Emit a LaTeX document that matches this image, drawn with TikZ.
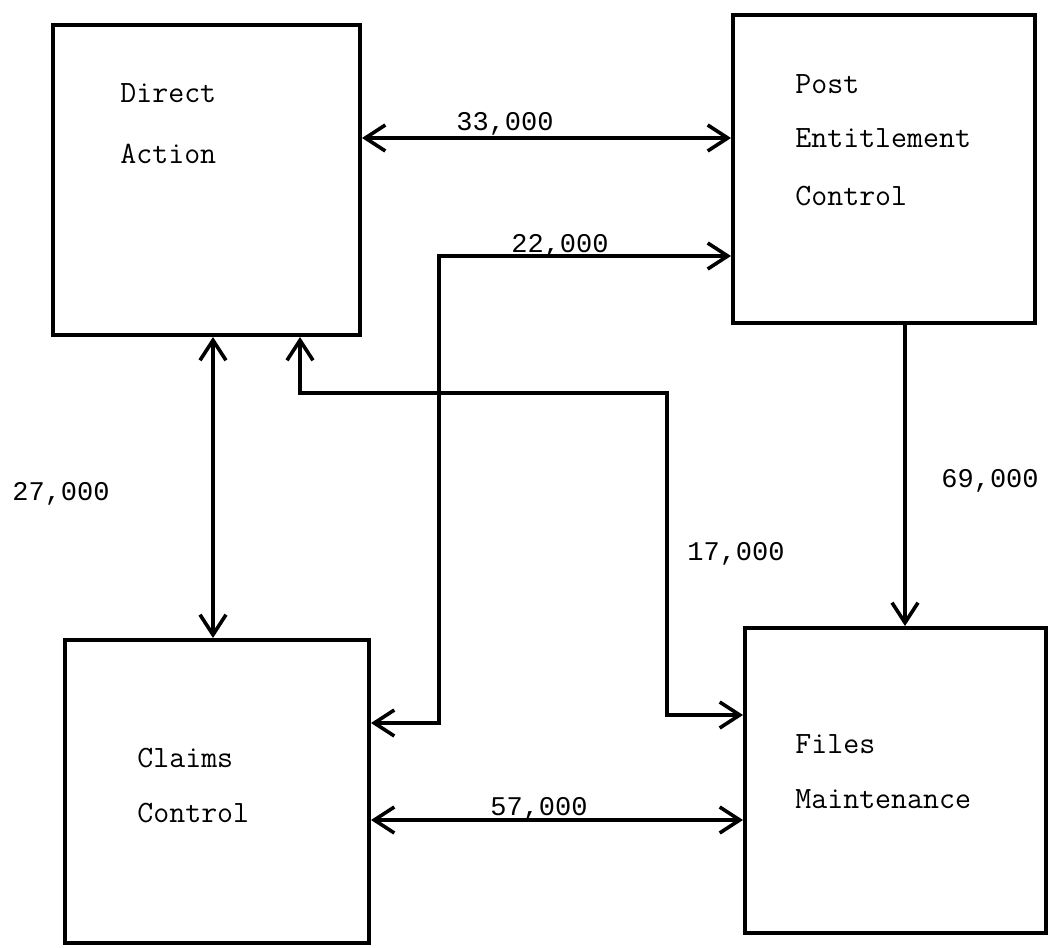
\documentclass[tikz,border=0pt]{standalone}
\usepackage{fontspec}
\newfontfamily\numfont{Liberation Mono}
\usetikzlibrary{arrows.meta}
\tikzset{barb/.tip={Straight Barb[length=10pt,width=13pt]}}
\begin{document}
\begin{tikzpicture}[x=0.5pt,y=-0.5pt,
  box/.style={draw, line width=2pt, inner sep=0pt, rectangle},
  txt/.style={anchor=base west, inner sep=0pt, font=\ttfamily\fontsize{15.5}{18}\selectfont},
  num/.style={anchor=base, inner sep=0pt, font=\numfont\fontsize{13.5}{16}\selectfont},
  flow/.style={line width=1.8pt, line join=miter}
]
\useasboundingbox (0,0) rectangle (1050,948);

% boxes
\node[box, minimum width=153.5pt, minimum height=155pt] (da) at (206.5,180) {};
\node[box, minimum width=151pt, minimum height=154pt] (pec) at (884,169) {};
\node[box, minimum width=152pt, minimum height=151.5pt] (claims) at (217,791.5) {};
\node[box, minimum width=150.5pt, minimum height=152.5pt] (files) at (895.5,780.5) {};

% box texts
\node[txt] (da1) at (120,102) {Direct};
\node[txt] (da2) at (120,163) {Action};
\node[txt] (pec1) at (795,93) {Post};
\node[txt] (pec2) at (795,147) {Entitlement};
\node[txt] (pec3) at (795,205) {Control};
\node[txt] (cc1) at (137,767) {Claims};
\node[txt] (cc2) at (137,822) {Control};
\node[txt] (fm1) at (795,753) {Files};
\node[txt] (fm2) at (795,808) {Maintenance};

% helper coordinates
\coordinate (y33) at (0,138);
\coordinate (k22a) at (439,256);
\coordinate (k22b) at (439,723);
\coordinate (x27) at (213,0);
\coordinate (k17a) at (300,393);
\coordinate (k17b) at (667,393);
\coordinate (k17c) at (667,715);
\coordinate (x69) at (905,0);
\coordinate (y57) at (0,820);

% connectors
\draw[flow, barb-barb] (da.east |- y33) -- (pec.west |- y33);
\draw[flow, barb-barb] (pec.west |- k22a) -- (k22a) -- (k22b) -- (claims.east |- k22b);
\draw[flow, barb-barb] (da.south -| x27) -- (claims.north -| x27);
\draw[flow, barb-barb] (da.south -| k17a) -- (k17a) -- (k17b) -- (k17c) -- (files.west |- k17c);
\draw[flow, -barb] (pec.south -| x69) -- (files.north -| x69);
\draw[flow, barb-barb] (claims.east |- y57) -- (files.west |- y57);

% labels
\node[num] (l33) at (505,130) {33,000};
\node[num] (l22) at (560,252) {22,000};
\node[num] (l27) at (61,500) {27,000};
\node[num] (l17) at (736,560) {17,000};
\node[num] (l69) at (990,487) {69,000};
\node[num] (l57) at (539,815) {57,000};
\end{tikzpicture}
\end{document}
